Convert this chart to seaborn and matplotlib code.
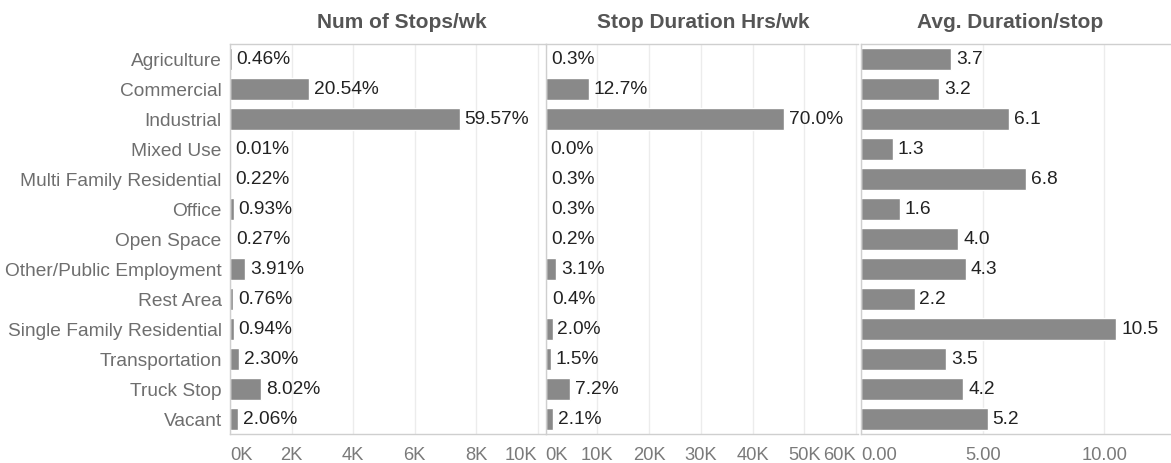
import pandas as pd
import seaborn as sns
import matplotlib.pyplot as plt
from matplotlib.ticker import FuncFormatter

categories = ["Agriculture", "Commercial", "Industrial", "Mixed Use",
              "Multi Family Residential", "Office", "Open Space",
              "Other/Public Employment", "Rest Area", "Single Family Residential",
              "Transportation", "Truck Stop", "Vacant"]
stops_pct = [0.46, 20.54, 59.57, 0.01, 0.22, 0.93, 0.27, 3.91, 0.76, 0.94, 2.30, 8.02, 2.06]
hours_pct = [0.3, 12.7, 70.0, 0.0, 0.3, 0.3, 0.2, 3.1, 0.4, 2.0, 1.5, 7.2, 2.1]
avg_duration = [3.7, 3.2, 6.1, 1.3, 6.8, 1.6, 4.0, 4.3, 2.2, 10.5, 3.5, 4.2, 5.2]
total_stops = 12530
total_hours = 65800

df = pd.DataFrame({"cat": categories, "stops_pct": stops_pct,
                   "hours_pct": hours_pct, "avg": avg_duration})
df["stops"] = df["stops_pct"] / 100 * total_stops
df["hours"] = df["hours_pct"] / 100 * total_hours

sns.set_theme(style="white")
plt.rcParams['font.family'] = ['Liberation Sans', 'DejaVu Sans']

W, H = 1171, 464
fig = plt.figure(figsize=(W / 100, H / 100), dpi=100)

bar_color = "#898989"
grid_color = "#ececec"
line_color = "#cfcfcf"
tick_color = "#7a7a7a"
fs = 13.8

panels = [
    dict(col="stops", left=230, right=545.7, xmax=10260, ticks=[0, 2000, 4000, 6000, 8000, 10000],
         fmt=lambda v, p: f"{v/1000:.0f}K", lab=[f"{v:.2f}%" for v in stops_pct],
         title="Num of Stops/wk", tx=402),
    dict(col="hours", left=545.7, right=858, xmax=60400, ticks=[0, 10000, 20000, 30000, 40000, 50000, 60000],
         fmt=lambda v, p: f"{v/1000:.0f}K", lab=[f"{v:.1f}%" for v in hours_pct],
         title="Stop Duration Hrs/wk", tx=703),
    dict(col="avg", left=861, right=1171, xmax=12.74, ticks=[0, 5, 10],
         fmt=lambda v, p: f"{v:.2f}", lab=[f"{v:.1f}" for v in avg_duration],
         title="Avg. Duration/stop", tx=1010),
]

top, bottom = 45, 435
for i, p in enumerate(panels):
    ax = fig.add_axes([p["left"] / W, (H - bottom) / H, (p["right"] - p["left"]) / W, (bottom - top) / H])
    sns.barplot(data=df, x=p["col"], y="cat", orient="h", color=bar_color,
                width=0.75, saturation=1, ax=ax)
    ax.set_xlim(0, p["xmax"])
    ax.set_ylim(len(categories) - 0.5, -0.5)
    ax.set_xticks(p["ticks"])
    ax.xaxis.set_major_formatter(FuncFormatter(p["fmt"]))
    ax.set_xlabel("")
    ax.set_ylabel("")
    ax.grid(axis="x", color=grid_color, linewidth=1)
    ax.set_axisbelow(True)
    ax.tick_params(axis="x", length=0, pad=9, labelsize=13.2, labelcolor=tick_color)
    for s in ["left", "bottom", "top"]:
        ax.spines[s].set_color(line_color)
        ax.spines[s].set_linewidth(1)
    ax.spines["right"].set_visible(False)
    if i == 0:
        ax.tick_params(axis="y", length=0, pad=6, labelsize=fs, labelcolor="#6e6e6e")
    else:
        ax.set_yticklabels([])
        ax.tick_params(axis="y", length=0)
    if i < 2:
        tl = ax.get_xticklabels()
        tl[0].set_ha("left")
        tl[-1].set_ha("right")
    else:
        ax.get_xticklabels()[0].set_ha("left")
    for bar, text in zip(ax.patches, p["lab"]):
        ax.annotate(text, (bar.get_width(), bar.get_y() + bar.get_height() / 2),
                    xytext=(3.5, 0), textcoords="offset points", va="center", ha="left",
                    fontsize=fs, color="#222222")
    fig.text(p["tx"] / W, 1 - 22 / H, p["title"], ha="center", va="center",
             fontsize=15, fontweight="bold", color="#555555")

fig.savefig("out.png", dpi=100)
